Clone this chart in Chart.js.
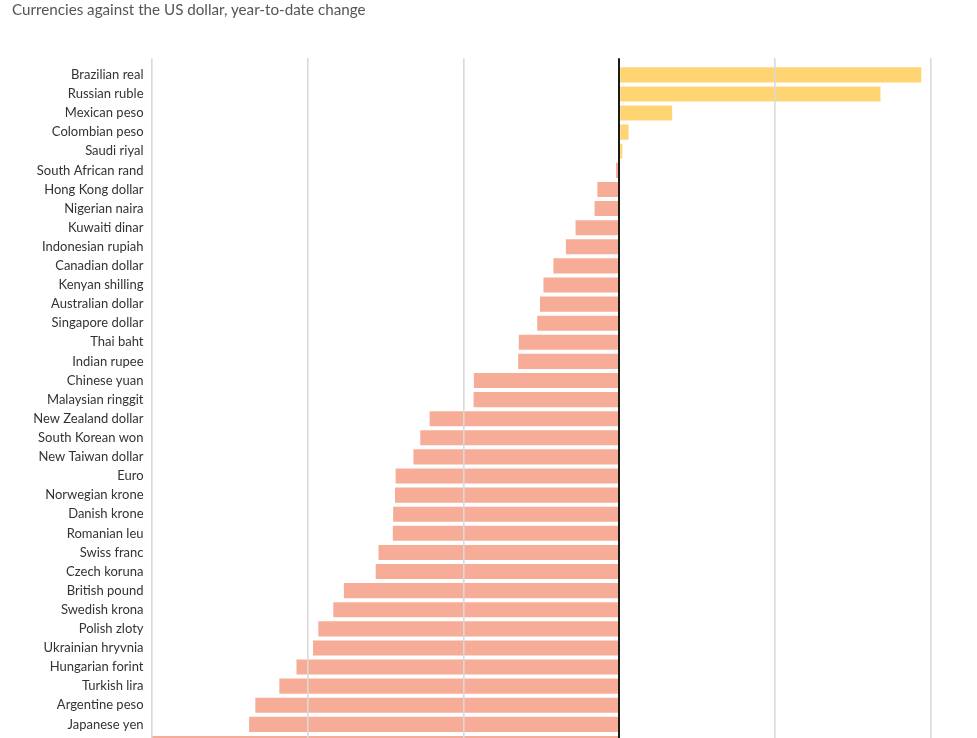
<!DOCTYPE html>
<html>
<head>
<meta charset="utf-8">
<script src="https://cdn.jsdelivr.net/npm/chart.js@4"></script>
<style>
  html, body { margin: 0; padding: 0; background: #fff; }
  #wrap { position: relative; width: 977px; height: 738px; overflow: hidden; }
  #title { position: absolute; left: 12px; top: 0; font: 15.2px Lato, "Open Sans", sans-serif; color: #555; line-height: 18px; }
  #c { position: absolute; left: 0; top: 0; }
</style>
</head>
<body>
<div id="wrap">
  <canvas id="c" width="977" height="753"></canvas>
  <div id="title">Currencies against the US dollar, year-to-date change</div>
</div>
<script>
const categories = [
  "Brazilian real", "Russian ruble", "Mexican peso", "Colombian peso", "Saudi riyal",
  "South African rand", "Hong Kong dollar", "Nigerian naira", "Kuwaiti dinar", "Indonesian rupiah",
  "Canadian dollar", "Kenyan shilling", "Australian dollar", "Singapore dollar", "Thai baht",
  "Indian rupee", "Chinese yuan", "Malaysian ringgit", "New Zealand dollar", "South Korean won",
  "New Taiwan dollar", "Euro", "Norwegian krone", "Danish krone", "Romanian leu",
  "Swiss franc", "Czech koruna", "British pound", "Swedish krona", "Polish zloty",
  "Ukrainian hryvnia", "Hungarian forint", "Turkish lira", "Argentine peso", "Japanese yen",
  "Sri Lankan rupee"
];
const changePct = [
  9.69, 8.38, 1.70, 0.30, 0.10,
  -0.10, -0.70, -0.79, -1.40, -1.71,
  -2.11, -2.43, -2.54, -2.63, -3.22,
  -3.24, -4.66, -4.67, -6.08, -6.38,
  -6.60, -7.17, -7.19, -7.25, -7.26,
  -7.72, -7.81, -8.83, -9.17, -9.65,
  -9.82, -10.35, -10.90, -11.67, -11.87,
  -15.0
];
const xTicks = [-15, -10, -5, 0, 5, 10];

const POS = "#FFD574";
const NEG = "#F6AC96";

new Chart(document.getElementById("c"), {
  type: "bar",
  data: {
    labels: categories,
    datasets: [{
      data: changePct,
      backgroundColor: (ctx) => (ctx.raw >= 0 ? POS : NEG),
      borderWidth: 0,
      categoryPercentage: 1.0,
      barPercentage: 0.79
    }]
  },
  options: {
    indexAxis: "y",
    responsive: false,
    animation: false,
    layout: { padding: { left: 0, top: 58.3, right: 46, bottom: 0 } },
    plugins: { legend: { display: false }, tooltip: { enabled: false }, title: { display: false } },
    scales: {
      x: {
        position: "top",
        min: -15,
        max: 10,
        afterBuildTicks: (s) => { s.ticks = xTicks.map(v => ({ value: v })); },
        ticks: { display: false },
        border: { display: false },
        grid: {
          z: 1,
          drawTicks: true,
          tickLength: 7,
          color: (ctx) => (ctx.tick && ctx.tick.value === 0 ? "#1a1a1a" : "#d9d9d9"),
          lineWidth: (ctx) => (ctx.tick && ctx.tick.value === 0 ? 2 : 1.6)
        }
      },
      y: {
        afterFit: (s) => { s.width = 151.5; s.paddingTop = 0; s.paddingBottom = 0; },
        grid: { display: false, drawTicks: false },
        border: { display: false },
        ticks: {
          padding: 8,
          autoSkip: false,
          color: "#333",
          font: { family: "Lato, 'Open Sans', sans-serif", size: 13 }
        }
      }
    }
  }
});
</script>
</body>
</html>
